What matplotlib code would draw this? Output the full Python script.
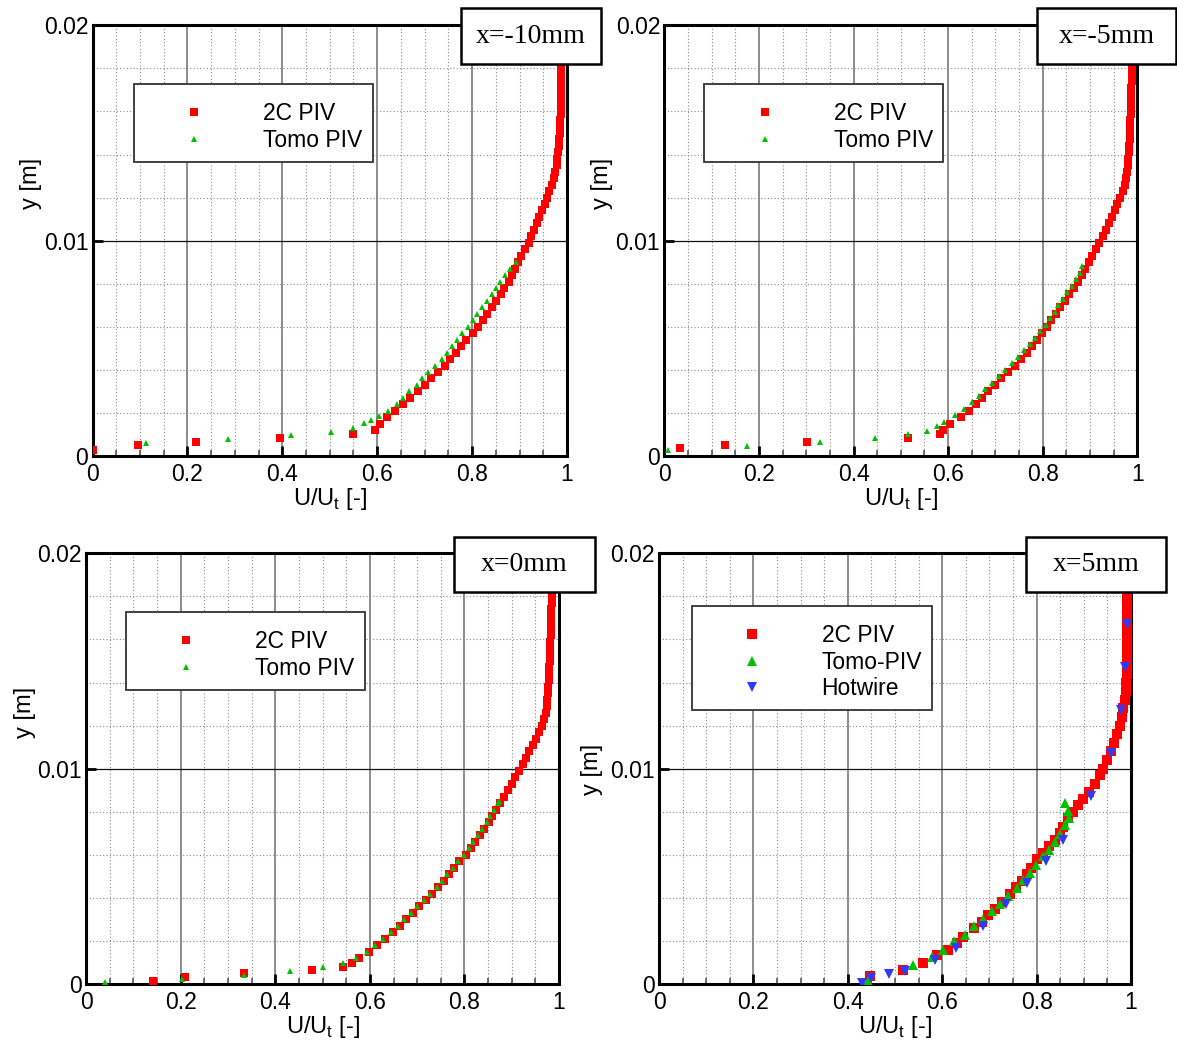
import matplotlib
matplotlib.use("Agg")
import matplotlib.pyplot as plt
from matplotlib.patches import Rectangle
from matplotlib.ticker import FixedLocator, MultipleLocator

plt.rcParams['font.family'] = ['Liberation Sans', 'DejaVu Sans']
plt.rcParams['mathtext.fontset'] = 'custom'
plt.rcParams['mathtext.rm'] = 'Liberation Sans'

# ---- data ----
x_ticks = [0, 0.2, 0.4, 0.6, 0.8, 1.0]
x_ticklabels = ['0', '0.2', '0.4', '0.6', '0.8', '1']
y_ticks = [0, 0.01, 0.02]
y_ticklabels = ['0', '0.01', '0.02']
titles = ['x=-10mm', 'x=-5mm', 'x=0mm', 'x=5mm']

# x = -10 mm
y_2c_m10 = [0.00028, 0.00051, 0.00066, 0.00084, 0.00101,
            0.0012, 0.0015, 0.0018, 0.0021, 0.0024, 0.0027, 0.0030, 0.0033, 0.0036, 0.0039,
            0.0042, 0.0045, 0.0048, 0.0051, 0.0054, 0.0057, 0.0060, 0.0063, 0.0066, 0.0069,
            0.0072, 0.0075, 0.0078, 0.0081, 0.0084, 0.0087, 0.0090, 0.0093, 0.0096, 0.0099,
            0.0102, 0.0105, 0.0108, 0.0111, 0.0114, 0.0117, 0.0120, 0.0123, 0.0126, 0.0129,
            0.0132, 0.0135, 0.0138, 0.0141, 0.0144, 0.0147, 0.0150, 0.0153, 0.0156, 0.0159,
            0.0162, 0.0165, 0.0168, 0.0171, 0.0174, 0.0177, 0.0180, 0.0183, 0.0186, 0.0189,
            0.0192, 0.0195, 0.0198]
u_2c_m10 = [0.0, 0.096, 0.218, 0.395, 0.548,
            0.596, 0.606, 0.621, 0.638, 0.654, 0.670, 0.686, 0.700, 0.714, 0.729,
            0.742, 0.754, 0.766, 0.777, 0.788, 0.801, 0.812, 0.822, 0.832, 0.841,
            0.851, 0.860, 0.868, 0.877, 0.884, 0.891, 0.897, 0.904, 0.911, 0.919,
            0.925, 0.931, 0.936, 0.942, 0.947, 0.953, 0.958, 0.963, 0.968, 0.972,
            0.975, 0.978, 0.980, 0.982, 0.983, 0.984, 0.985, 0.986, 0.986, 0.987,
            0.987, 0.987, 0.987, 0.987, 0.987, 0.987, 0.987, 0.987, 0.986, 0.986,
            0.986, 0.986, 0.986]
y_tomo_m10 = [0.00062, 0.00078, 0.00098, 0.00113, 0.00129, 0.00152, 0.00167, 0.00186,
              0.0021, 0.0024, 0.0027, 0.0030, 0.0033, 0.0036, 0.0039, 0.0042, 0.0045,
              0.0048, 0.0051, 0.0054, 0.0057, 0.0060, 0.0063, 0.0066, 0.0069, 0.0072,
              0.0075, 0.0078, 0.0081, 0.0084, 0.0087, 0.0090]
u_tomo_m10 = [0.112, 0.286, 0.418, 0.502, 0.548, 0.572, 0.588, 0.604,
              0.622, 0.642, 0.655, 0.668, 0.683, 0.695, 0.708, 0.722, 0.736,
              0.747, 0.758, 0.768, 0.779, 0.791, 0.801, 0.811, 0.821, 0.831,
              0.842, 0.850, 0.858, 0.869, 0.880, 0.892]

# x = -5 mm
y_2c_m5 = [0.00036, 0.00051, 0.00066, 0.00085, 0.00101,
           0.0012, 0.0015, 0.0018, 0.0021, 0.0024, 0.0027, 0.0030, 0.0033, 0.0036, 0.0039,
           0.0042, 0.0045, 0.0048, 0.0051, 0.0054, 0.0057, 0.0060, 0.0063, 0.0066, 0.0069,
           0.0072, 0.0075, 0.0078, 0.0081, 0.0084, 0.0087, 0.0090, 0.0093, 0.0096, 0.0099,
           0.0102, 0.0105, 0.0108, 0.0111, 0.0114, 0.0117, 0.0120, 0.0123, 0.0126, 0.0129,
           0.0132, 0.0135, 0.0138, 0.0141, 0.0144, 0.0147, 0.0150, 0.0153, 0.0156, 0.0159,
           0.0162, 0.0165, 0.0168, 0.0171, 0.0174, 0.0177, 0.0180, 0.0183, 0.0186, 0.0189,
           0.0192, 0.0195, 0.0198]
u_2c_m5 = [0.033, 0.128, 0.301, 0.516, 0.583,
           0.590, 0.603, 0.627, 0.644, 0.659, 0.672, 0.685, 0.699, 0.712, 0.726,
           0.741, 0.754, 0.767, 0.778, 0.788, 0.798, 0.808, 0.818, 0.828, 0.837,
           0.847, 0.856, 0.866, 0.875, 0.883, 0.890, 0.897, 0.904, 0.912, 0.920,
           0.927, 0.934, 0.941, 0.947, 0.952, 0.958, 0.964, 0.969, 0.973, 0.977,
           0.979, 0.980, 0.981, 0.982, 0.983, 0.984, 0.984, 0.985, 0.985, 0.986,
           0.986, 0.987, 0.987, 0.987, 0.988, 0.988, 0.988, 0.988, 0.989, 0.989,
           0.989, 0.989, 0.989]
y_tomo_m5 = [0.00028, 0.00046, 0.00064, 0.00082, 0.00102, 0.00118, 0.00139,
             0.0016, 0.0019, 0.0022, 0.0025, 0.0028, 0.0031, 0.0034, 0.0037, 0.0040,
             0.0043, 0.0046, 0.0049, 0.0052, 0.0055, 0.0058, 0.0061, 0.0064, 0.0067,
             0.0070, 0.0073, 0.0076, 0.0079, 0.0082, 0.0085, 0.0088]
u_tomo_m5 = [0.008, 0.174, 0.329, 0.446, 0.516, 0.555, 0.576,
             0.592, 0.614, 0.634, 0.650, 0.665, 0.679, 0.693, 0.707, 0.720,
             0.734, 0.748, 0.761, 0.773, 0.784, 0.795, 0.806, 0.816, 0.825,
             0.833, 0.842, 0.852, 0.862, 0.871, 0.878, 0.884]

# x = 0 mm
y_2c_0 = [0.00015, 0.00034, 0.0005, 0.00065, 0.0008, 0.00098,
          0.0012, 0.0015, 0.0018, 0.0021, 0.0024, 0.0027, 0.0030, 0.0033, 0.0036, 0.0039,
          0.0042, 0.0045, 0.0048, 0.0051, 0.0054, 0.0057, 0.0060, 0.0063, 0.0066, 0.0069,
          0.0072, 0.0075, 0.0078, 0.0081, 0.0084, 0.0087, 0.0090, 0.0093, 0.0096, 0.0099,
          0.0102, 0.0105, 0.0108, 0.0111, 0.0114, 0.0117, 0.0120, 0.0123, 0.0126, 0.0129,
          0.0132, 0.0135, 0.0138, 0.0141, 0.0144, 0.0147, 0.0150, 0.0153, 0.0156, 0.0159,
          0.0162, 0.0165, 0.0168, 0.0171, 0.0174, 0.0177, 0.0180, 0.0183, 0.0186, 0.0189,
          0.0192, 0.0195, 0.0198]
u_2c_0 = [0.142, 0.209, 0.333, 0.478, 0.543, 0.562,
          0.576, 0.598, 0.616, 0.632, 0.648, 0.663, 0.677, 0.691, 0.704, 0.718,
          0.731, 0.745, 0.757, 0.768, 0.778, 0.789, 0.803, 0.813, 0.823, 0.832,
          0.842, 0.851, 0.859, 0.867, 0.876, 0.884, 0.892, 0.900, 0.907, 0.916,
          0.923, 0.930, 0.937, 0.944, 0.951, 0.957, 0.963, 0.968, 0.972, 0.974,
          0.975, 0.976, 0.977, 0.978, 0.979, 0.979, 0.980, 0.980, 0.981, 0.981,
          0.982, 0.982, 0.983, 0.983, 0.983, 0.984, 0.984, 0.984, 0.984, 0.985,
          0.985, 0.985, 0.985]
y_tomo_0 = [0.00008, 0.00023, 0.0004, 0.00062, 0.00078, 0.00096,
            0.0012, 0.0015, 0.0018, 0.0021, 0.0024, 0.0027, 0.0030, 0.0033, 0.0036,
            0.0039, 0.0042, 0.0045, 0.0048, 0.0051, 0.0054, 0.0057, 0.0060, 0.0063,
            0.0066, 0.0069, 0.0072, 0.0075, 0.0078, 0.0081, 0.0084, 0.0085]
u_tomo_0 = [0.040, 0.203, 0.333, 0.432, 0.501, 0.543,
            0.570, 0.593, 0.611, 0.628, 0.644, 0.659, 0.673, 0.687, 0.700,
            0.714, 0.727, 0.741, 0.753, 0.764, 0.775, 0.786, 0.799, 0.809,
            0.818, 0.828, 0.838, 0.847, 0.855, 0.863, 0.871, 0.873]

# x = 5 mm
y_2c_5 = [0.00036, 0.00067, 0.00098, 0.00133, 0.0016, 0.0019, 0.0022, 0.0026, 0.0029,
          0.0032, 0.0035, 0.0038, 0.0042, 0.0045, 0.0048, 0.0051, 0.0054, 0.0058, 0.0061,
          0.0064, 0.0067, 0.0070, 0.0073, 0.0077, 0.0080, 0.0083, 0.0086, 0.0089, 0.0093,
          0.0097, 0.0100, 0.0104, 0.0108, 0.0112, 0.0116, 0.0120, 0.0124, 0.0128, 0.0132,
          0.0136, 0.0140, 0.0144, 0.0148, 0.0152, 0.0156, 0.0160, 0.0164, 0.0168, 0.0172,
          0.0176, 0.0180, 0.0184, 0.0188, 0.0192, 0.0196, 0.0200]
u_2c_5 = [0.446, 0.518, 0.560, 0.590, 0.613, 0.631, 0.645, 0.667, 0.684,
          0.698, 0.712, 0.726, 0.743, 0.757, 0.769, 0.779, 0.789, 0.801, 0.814,
          0.827, 0.839, 0.849, 0.857, 0.867, 0.878, 0.888, 0.899, 0.911, 0.924,
          0.934, 0.941, 0.949, 0.957, 0.964, 0.971, 0.977, 0.981, 0.984, 0.987,
          0.989, 0.990, 0.991, 0.991, 0.992, 0.992, 0.992, 0.992, 0.992, 0.992,
          0.992, 0.992, 0.992, 0.992, 0.992, 0.992, 0.992]
y_tomo_5 = [0.00013, 0.00087, 0.00124, 0.0016, 0.00198, 0.00229, 0.00268, 0.00303, 0.0034,
            0.00372, 0.00407, 0.00446, 0.00485, 0.00516, 0.00554, 0.00593, 0.00624, 0.0066,
            0.00697, 0.00737, 0.00771, 0.00802, 0.00841]
u_tomo_5 = [0.442, 0.539, 0.578, 0.602, 0.625, 0.648, 0.668, 0.687, 0.705,
            0.722, 0.740, 0.758, 0.772, 0.786, 0.798, 0.813, 0.827, 0.839,
            0.850, 0.860, 0.869, 0.867, 0.860]
y_hw_5 = [0.00005, 0.00028, 0.00047, 0.00062, 0.00113, 0.00167, 0.00268, 0.00372, 0.00469,
          0.0057, 0.00667, 0.00872, 0.01073, 0.01274, 0.01471, 0.01672]
u_hw_5 = [0.430, 0.450, 0.488, 0.521, 0.585, 0.629, 0.687, 0.735, 0.779,
          0.821, 0.855, 0.915, 0.958, 0.979, 0.987, 0.991]

RED = '#ff0000'
GREEN = '#00c000'
BLUE = '#2b3cff'

fig = plt.figure(figsize=(11.77, 10.46), dpi=100)

# axes rectangles, title boxes, legend anchors and ylabel positions per panel
axes_rects = [[0.0786, 0.5641, 0.4031, 0.4117],
              [0.5644, 0.5641, 0.4019, 0.4117],
              [0.0731, 0.0593, 0.4019, 0.4117],
              [0.5599, 0.0593, 0.4010, 0.4117]]
title_rects = [[0.3917, 0.9388, 0.1189, 0.0535],
               [0.8811, 0.9388, 0.1181, 0.0535],
               [0.3857, 0.4340, 0.1198, 0.0526],
               [0.8717, 0.4340, 0.1189, 0.0526]]
legend_anchor = [(0.0865, 0.8628), (0.0847, 0.8628), (0.0844, 0.8628), (0.0702, 0.8767)]
ylabel_pos = [(-0.106, 0.633), (-0.108, 0.633), (-0.106, 0.630), (-0.118, 0.498)]


def style_axes(ax):
    ax.set_xlim(0, 1)
    ax.set_ylim(0, 0.02)
    ax.xaxis.set_major_locator(FixedLocator(x_ticks))
    ax.set_xticklabels(x_ticklabels)
    ax.yaxis.set_major_locator(FixedLocator(y_ticks))
    ax.set_yticklabels(y_ticklabels)
    ax.xaxis.set_minor_locator(MultipleLocator(0.05))
    ax.yaxis.set_minor_locator(MultipleLocator(0.002))
    ax.grid(True, which='minor', color='#8a8a8a', linestyle=(0, (1, 2)), linewidth=0.8)
    ax.grid(True, which='major', axis='x', color='#6e6e6e', linestyle='-', linewidth=1.1)
    ax.grid(True, which='major', axis='y', color='#111111', linestyle='-', linewidth=0.9)
    ax.set_axisbelow(True)
    for sp in ax.spines.values():
        sp.set_linewidth(2.2)
        sp.set_color('black')
    ax.tick_params(which='major', direction='in', length=7, width=2.0,
                   labelsize=16.5, pad=5, top=False, right=False)
    ax.tick_params(axis='y', which='minor', left=False)
    ax.tick_params(axis='x', which='minor', direction='in', length=4.5, width=1.2,
                   color='#555555', top=False)
    ax.tick_params(axis='y', which='major', pad=3)
    ax.set_xlabel(r'U/U$_\mathregular{t}$ [-]', fontsize=17, labelpad=0)
    ax.set_ylabel('y [m]', fontsize=17)


panels = [
    [(u_2c_m10, y_2c_m10, 's', RED, 5.6, '2C PIV'),
     (u_tomo_m10, y_tomo_m10, '^', GREEN, 4.2, 'Tomo PIV')],
    [(u_2c_m5, y_2c_m5, 's', RED, 5.6, '2C PIV'),
     (u_tomo_m5, y_tomo_m5, '^', GREEN, 4.2, 'Tomo PIV')],
    [(u_2c_0, y_2c_0, 's', RED, 5.6, '2C PIV'),
     (u_tomo_0, y_tomo_0, '^', GREEN, 4.2, 'Tomo PIV')],
    [(u_2c_5, y_2c_5, 's', RED, 6.6, '2C PIV'),
     (u_tomo_5, y_tomo_5, '^', GREEN, 6.8, 'Tomo-PIV'),
     (u_hw_5, y_hw_5, 'v', BLUE, 6.8, 'Hotwire')],
]

for i, series in enumerate(panels):
    ax = fig.add_axes(axes_rects[i])
    style_axes(ax)
    for u, y, mk, col, ms, lab in series:
        ax.plot(u, y, linestyle='none', marker=mk, color=col, markersize=ms,
                markeredgewidth=0, label=lab, zorder=3)
    ax.yaxis.set_label_coords(*ylabel_pos[i])
    # blank small title just adds the extra top space seen in the reference legends
    leg = ax.legend(loc='upper left', bbox_to_anchor=legend_anchor[i], borderaxespad=0,
                    fontsize=16.5, frameon=True, fancybox=False, framealpha=1,
                    borderpad=0.45, handlelength=4.35, handletextpad=0.85,
                    labelspacing=0.15, markerscale=1.0,
                    title=' ', title_fontsize=2)
    leg.get_frame().set_edgecolor('#333333')
    leg.get_frame().set_linewidth(1.3)

    r = title_rects[i]
    fig.patches.append(Rectangle((r[0], r[1]), r[2], r[3], transform=fig.transFigure,
                                 facecolor='white', edgecolor='black', linewidth=1.8,
                                 zorder=5))
    fig.text(r[0] + r[2] / 2, r[1] + r[3] / 2, titles[i], ha='center', va='center',
             fontsize=20, family='Liberation Serif', zorder=6)

plt.savefig('out.png', dpi=100)
